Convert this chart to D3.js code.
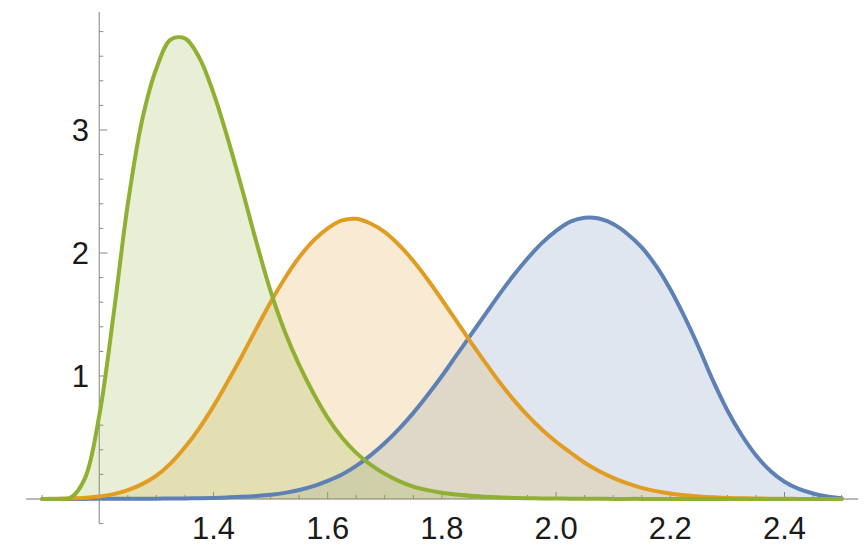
<!DOCTYPE html>
<html>
<head>
<meta charset="utf-8">
<script src="https://cdn.jsdelivr.net/npm/d3@7"></script>
<style>
  html, body { margin: 0; padding: 0; background: #fff; }
  svg { display: block; }
  text { font-family: "Liberation Sans", Arial, sans-serif; }
</style>
</head>
<body>
<svg id="chart" width="864" height="545"></svg>
<script>
// ---- data ----
const seriesNames = ["blue", "orange", "green"];
const seriesColors = ["#5E81B5", "#E19C24", "#8FB032"];

const xValues = [
  1.100,1.125,1.150,1.175,1.200,1.225,1.250,1.275,1.300,1.325,
  1.350,1.375,1.400,1.425,1.450,1.475,1.500,1.525,1.550,1.575,
  1.600,1.625,1.650,1.675,1.700,1.725,1.750,1.775,1.800,1.825,
  1.850,1.875,1.900,1.925,1.950,1.975,2.000,2.025,2.050,2.075,
  2.100,2.125,2.150,2.175,2.200,2.225,2.250,2.275,2.300,2.325,
  2.350,2.375,2.400,2.425,2.450,2.475,2.500
];

const blueValues = [
  0,0,0.001,0.001,0.002,0.002,0.002,0.003,0.003,0.004,
  0.005,0.007,0.009,0.013,0.018,0.025,0.035,0.050,0.073,0.105,
  0.148,0.200,0.270,0.355,0.455,0.570,0.700,0.845,1.000,1.165,
  1.330,1.495,1.660,1.815,1.955,2.080,2.180,2.255,2.287,2.280,
  2.235,2.155,2.045,1.895,1.705,1.480,1.230,0.960,0.720,0.520,
  0.355,0.230,0.140,0.082,0.045,0.020,0.006
];

const orangeValues = [
  0,0.002,0.005,0.010,0.020,0.040,0.073,0.121,0.190,0.290,
  0.420,0.575,0.755,0.955,1.165,1.385,1.600,1.795,1.965,2.100,
  2.200,2.265,2.278,2.240,2.170,2.065,1.935,1.785,1.620,1.450,
  1.280,1.115,0.955,0.810,0.680,0.565,0.465,0.378,0.295,0.228,
  0.172,0.127,0.091,0.064,0.045,0.031,0.021,0.014,0.009,0.006,
  0.004,0.003,0.002,0.001,0.001,0,0
];

const greenValues = [
  0,0,0.010,0.170,0.680,1.500,2.400,3.080,3.500,3.735,
  3.745,3.590,3.300,2.930,2.520,2.090,1.690,1.360,1.090,0.860,
  0.660,0.500,0.375,0.280,0.205,0.145,0.100,0.072,0.050,0.036,
  0.026,0.018,0.013,0.009,0.007,0.005,0.004,0.003,0.002,0.0015,
  0.001,0.001,0.001,0,0,0,0,0,0,0,
  0,0,0,0,0,0,0
];

const xMajorTicks = [1.4, 1.6, 1.8, 2.0, 2.2, 2.4];
const xTickLabels = ["1.4", "1.6", "1.8", "2.0", "2.2", "2.4"];
const yMajorTicks = [1, 2, 3];
const yTickLabels = ["1", "2", "3"];

// ---- layout ----
const svg = d3.select("#chart");
const x = d3.scaleLinear().domain([1.2, 2.4]).range([99.3, 784.5]);
const y = d3.scaleLinear().domain([0, 3]).range([499, 130]);
const xAxisExtent = [1.072, 2.529];
const yAxisExtent = [-0.2, 3.96];
const axisColor = "#a0a0a0";

const gAxes = svg.append("g");
gAxes.append("line")
  .attr("x1", x(xAxisExtent[0])).attr("x2", x(xAxisExtent[1]))
  .attr("y1", y(0)).attr("y2", y(0))
  .attr("stroke", axisColor).attr("stroke-width", 1.3);
gAxes.append("line")
  .attr("x1", x(1.2)).attr("x2", x(1.2))
  .attr("y1", y(yAxisExtent[0])).attr("y2", y(yAxisExtent[1]))
  .attr("stroke", axisColor).attr("stroke-width", 1.3);

const xMinor = d3.range(22, 51).map(i => i * 0.05);
gAxes.selectAll(".xt").data(xMinor).enter().append("line")
  .attr("x1", d => x(d)).attr("x2", d => x(d))
  .attr("y1", y(0))
  .attr("y2", d => y(0) - (xMajorTicks.some(m => Math.abs(m - d) < 1e-6) ? 7 : 4))
  .attr("stroke", "#888").attr("stroke-width", 1);

const yMinor = d3.range(-1, 20).map(i => i * 0.2);
gAxes.selectAll(".yt").data(yMinor).enter().append("line")
  .attr("y1", d => y(d)).attr("y2", d => y(d))
  .attr("x1", x(1.2))
  .attr("x2", d => x(1.2) + (yMajorTicks.some(m => Math.abs(m - d) < 1e-6) ? 8 : 4))
  .attr("stroke", "#888").attr("stroke-width", 1);

svg.selectAll(".xl").data(xMajorTicks).enter().append("text")
  .attr("x", d => x(d)).attr("y", 539)
  .attr("text-anchor", "middle")
  .attr("font-size", 31).attr("fill", "#1a1a1a")
  .text((d, i) => xTickLabels[i]);

svg.selectAll(".yl").data(yMajorTicks).enter().append("text")
  .attr("x", 89).attr("y", d => y(d) + 11)
  .attr("text-anchor", "end")
  .attr("font-size", 31).attr("fill", "#1a1a1a")
  .text((d, i) => yTickLabels[i]);

// ---- curves ----
const allValues = [blueValues, orangeValues, greenValues];
const curve = d3.curveCatmullRom.alpha(0.5);
const area = d3.area().x((d, i) => x(xValues[i])).y0(y(0)).y1(d => y(d)).curve(curve);
const line = d3.line().x((d, i) => x(xValues[i])).y(d => y(d)).curve(curve);

const gFill = svg.append("g");
allValues.forEach((s, i) => {
  gFill.append("path").attr("d", area(s))
    .attr("fill", seriesColors[i]).attr("fill-opacity", 0.2).attr("stroke", "none");
});
const gLine = svg.append("g");
allValues.forEach((s, i) => {
  gLine.append("path").attr("d", line(s))
    .attr("fill", "none").attr("stroke", seriesColors[i])
    .attr("stroke-width", 4).attr("stroke-linejoin", "round").attr("stroke-linecap", "round");
});
</script>
</body>
</html>
